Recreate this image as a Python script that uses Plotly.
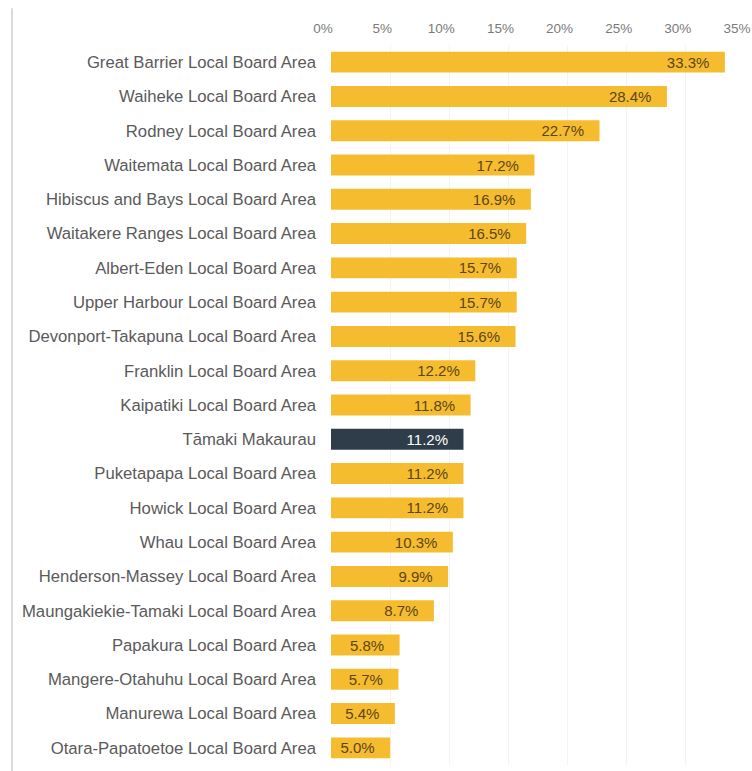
import plotly.graph_objects as go

areas = [
    "Great Barrier Local Board Area",
    "Waiheke Local Board Area",
    "Rodney Local Board Area",
    "Waitemata Local Board Area",
    "Hibiscus and Bays Local Board Area",
    "Waitakere Ranges Local Board Area",
    "Albert-Eden Local Board Area",
    "Upper Harbour Local Board Area",
    "Devonport-Takapuna Local Board Area",
    "Franklin Local Board Area",
    "Kaipatiki Local Board Area",
    "Tāmaki Makaurau",
    "Puketapapa Local Board Area",
    "Howick Local Board Area",
    "Whau Local Board Area",
    "Henderson-Massey Local Board Area",
    "Maungakiekie-Tamaki Local Board Area",
    "Papakura Local Board Area",
    "Mangere-Otahuhu Local Board Area",
    "Manurewa Local Board Area",
    "Otara-Papatoetoe Local Board Area",
]
values = [33.3, 28.4, 22.7, 17.2, 16.9, 16.5, 15.7, 15.7, 15.6, 12.2, 11.8,
          11.2, 11.2, 11.2, 10.3, 9.9, 8.7, 5.8, 5.7, 5.4, 5.0]
region_total = "Tāmaki Makaurau"

x_ticks = [0, 5, 10, 15, 20, 25, 30, 35]
tick_text = [f"{t}%" for t in x_ticks]

YELLOW = "#F6BC2F"
DARK = "#2F3D4A"
FONT = "Liberation Sans, Arial, sans-serif"

bar_colors = [DARK if a == region_total else YELLOW for a in areas]
text_colors = ["#FFFFFF" if a == region_total else "#5A4619" for a in areas]

fig = go.Figure(
    go.Bar(
        x=values,
        y=areas,
        orientation="h",
        marker=dict(color=bar_colors, line=dict(width=0)),
        text=[f"{v:.1f}%   " for v in values],
        textposition="inside",
        insidetextanchor="end",
        textangle=0,
        constraintext="none",
        textfont=dict(family=FONT, size=15, color=text_colors),
        hoverinfo="skip",
    )
)

fig.update_layout(
    width=752,
    height=771,
    margin=dict(l=331, r=7, t=45, b=6, autoexpand=False),
    paper_bgcolor="white",
    plot_bgcolor="white",
    bargap=0.39,
    showlegend=False,
    font=dict(family=FONT),
)

fig.update_xaxes(
    side="top",
    range=[0, 35],
    tickvals=x_ticks,
    ticktext=tick_text,
    showgrid=True,
    gridcolor="#F3F3F3",
    gridwidth=1,
    zeroline=False,
    showline=False,
    ticks="",
    automargin=False,
    ticklabeloverflow="allow",
    ticklabelshift=-8,
    ticklabelstandoff=8,
    tickfont=dict(size=13.5, color="#7A7A7A"),
    fixedrange=True,
)

fig.update_yaxes(
    autorange="reversed",
    showgrid=False,
    showline=False,
    ticks="",
    automargin=False,
    ticklabelstandoff=14,
    tickfont=dict(size=16.7, color="#5A5A5A"),
    fixedrange=True,
)

# thin frame line down the left side of the panel
fig.add_shape(
    type="line",
    xref="paper", yref="paper",
    x0=-0.7705, x1=-0.7705, y0=-0.02, y1=1.051,
    line=dict(color="#CFCFCF", width=1.5),
)

fig.write_html("out.html")
